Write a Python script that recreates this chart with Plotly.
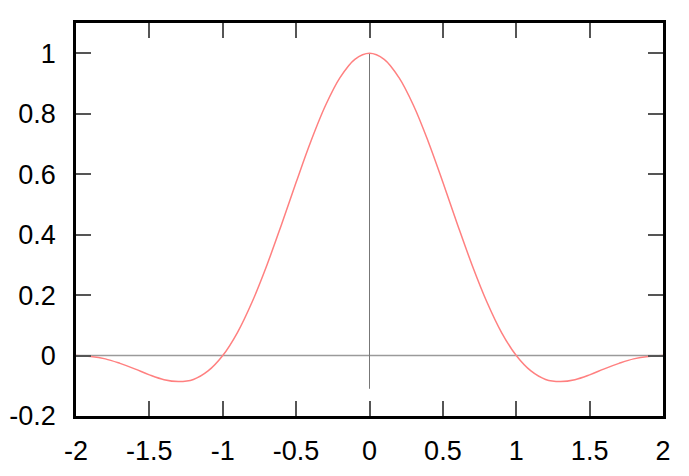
import plotly.graph_objects as go

x_vals = [-2.0, -1.9, -1.8, -1.7, -1.6, -1.5, -1.4, -1.3, -1.2, -1.1, -1.0,
          -0.9, -0.8, -0.7, -0.6, -0.5, -0.4, -0.3, -0.2, -0.1, 0.0,
          0.1, 0.2, 0.3, 0.4, 0.5, 0.6, 0.7, 0.8, 0.9, 1.0,
          1.1, 1.2, 1.3, 1.4, 1.5, 1.6, 1.7, 1.8, 1.9, 2.0]
y_vals = [0.0, -0.003, -0.011, -0.026, -0.044, -0.064, -0.080, -0.086, -0.079, -0.051, 0.0,
          0.076, 0.177, 0.298, 0.433, 0.573, 0.708, 0.827, 0.920, 0.980, 1.0,
          0.980, 0.920, 0.827, 0.708, 0.573, 0.433, 0.298, 0.177, 0.076, 0.0,
          -0.051, -0.079, -0.086, -0.080, -0.064, -0.044, -0.026, -0.011, -0.003, 0.0]

x_ticks = [-2, -1.5, -1, -0.5, 0, 0.5, 1, 1.5, 2]
x_tick_labels = ["-2", "-1.5", "-1", "-0.5", "0", "0.5", "1", "1.5", "2"]
y_ticks = [-0.2, 0, 0.2, 0.4, 0.6, 0.8, 1]
y_tick_labels = ["-0.2", "0", "0.2", "0.4", "0.6", "0.8", "1"]

fig = go.Figure()

# horizontal zero line across the full width
fig.add_shape(type="line", xref="x", yref="y", x0=-2, x1=2, y0=0, y1=0,
              line=dict(color="#9a9a9a", width=1.5), layer="below")
# vertical line at x=0
fig.add_shape(type="line", xref="x", yref="y", x0=0, x1=0, y0=-0.11, y1=1,
              line=dict(color="#777777", width=1), layer="below")

fig.add_trace(go.Scatter(x=x_vals, y=y_vals, mode="lines",
                         line=dict(color="#ff8080", width=1.5, shape="spline"),
                         showlegend=False, hoverinfo="skip"))

axis_common = dict(
    showgrid=False, zeroline=False, automargin=False,
    showline=True, linecolor="black", linewidth=2.5, mirror="ticks",
    ticks="inside", ticklen=15, tickwidth=2, tickcolor="#555555",
    tickfont=dict(family="Liberation Sans, Arial, sans-serif", size=27, color="black"),
)

fig.update_xaxes(range=[-2, 2], tickvals=x_ticks, ticktext=x_tick_labels,
                 ticklabelstandoff=9, **axis_common)
fig.update_yaxes(range=[-0.2, 1.1], tickvals=y_ticks, ticktext=y_tick_labels,
                 ticklabelstandoff=12, **axis_common)

fig.update_layout(
    width=681, height=468,
    margin=dict(l=68, r=26, t=15, b=60),
    paper_bgcolor="white", plot_bgcolor="white",
)

fig.write_html("out.html")
